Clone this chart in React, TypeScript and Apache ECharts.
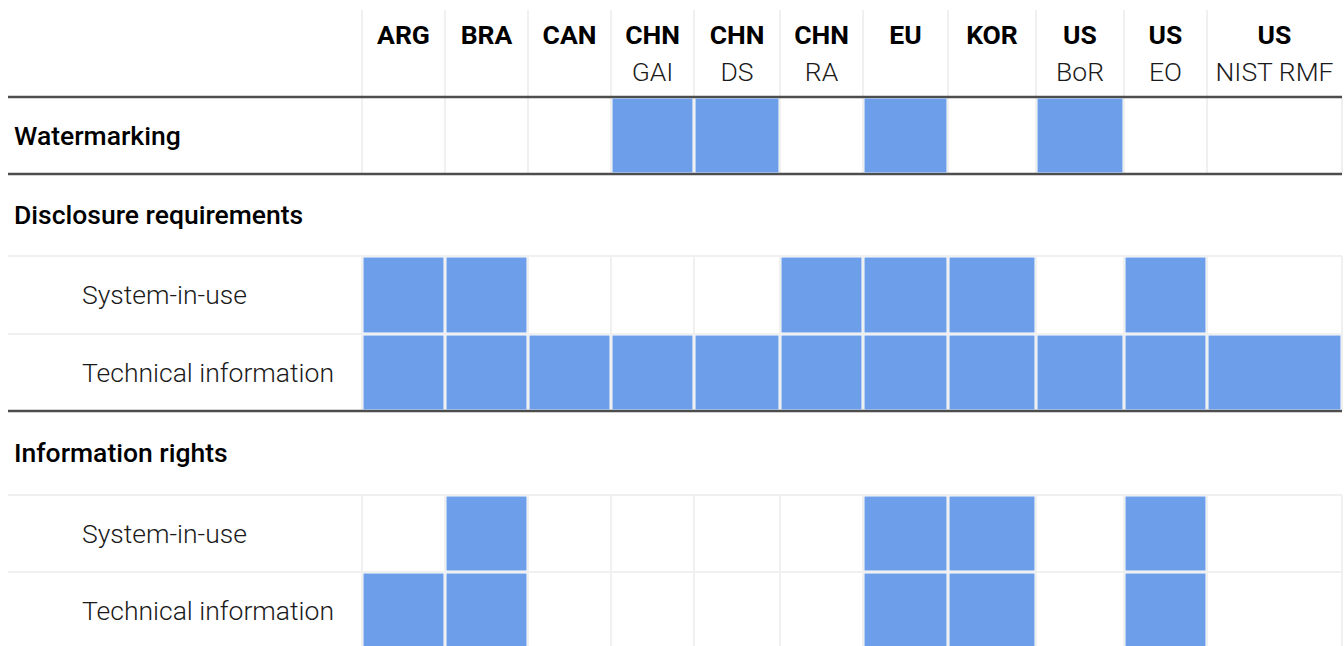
import React, { useEffect, useRef } from "react";
import * as echarts from "echarts";

// ---- data ----
const COLUMN_NAMES = ["ARG", "BRA", "CAN", "CHN", "CHN", "CHN", "EU", "KOR", "US", "US", "US"];
const COLUMN_SUBNAMES = ["", "", "", "GAI", "DS", "RA", "", "", "BoR", "EO", "NIST RMF"];
const ROW_LABELS = [
  "Watermarking",
  "Disclosure requirements",
  "System-in-use",
  "Technical information",
  "Information rights",
  "System-in-use",
  "Technical information",
];
const ROW_KINDS = ["single", "group", "item", "item", "group", "item", "item"];
const watermarking = [0, 0, 0, 1, 1, 0, 1, 0, 1, 0, 0];
const disclosureSystemInUse = [1, 1, 0, 0, 0, 1, 1, 1, 0, 1, 0];
const disclosureTechnicalInfo = [1, 1, 1, 1, 1, 1, 1, 1, 1, 1, 1];
const rightsSystemInUse = [0, 1, 0, 0, 0, 0, 1, 1, 0, 1, 0];
const rightsTechnicalInfo = [1, 1, 0, 0, 0, 0, 1, 1, 0, 1, 0];
const ROW_VALUES: (number[] | null)[] = [
  watermarking,
  null,
  disclosureSystemInUse,
  disclosureTechnicalInfo,
  null,
  rightsSystemInUse,
  rightsTechnicalInfo,
];

// ---- layout ----
const COL_WIDTHS = [83, 83, 83, 83, 86, 83, 85, 88, 88, 83, 135];
const ROW_HEIGHTS = [77, 82, 78, 77, 84, 77, 77];
const BLUE = "#6c9ee9";
const GRID_LINE = "#f0f0f0";
const DARK_LINE = "#4d4d4d";
const FONT = "Roboto";
const FONT_SIZE = 26.5;
const LINE_X1 = 8;
const LINE_X2 = 1342;

const colStarts: number[] = [];
{
  let acc = 0;
  for (const w of COL_WIDTHS) {
    colStarts.push(acc);
    acc += w;
  }
  colStarts.push(acc);
}
const rowStarts: number[] = [];
{
  let acc = 0;
  for (const h of ROW_HEIGHTS) {
    rowStarts.push(acc);
    acc += h;
  }
  rowStarts.push(acc);
}
const TOTAL_W = colStarts[colStarts.length - 1];
const TOTAL_H = rowStarts[rowStarts.length - 1];

export default function App() {
  const ref = useRef<HTMLDivElement>(null);

  useEffect(() => {
    if (!ref.current) return;
    const chart = echarts.init(ref.current, null, { renderer: "svg" });

    const cellData: number[][] = [];
    ROW_VALUES.forEach((vals, r) => {
      if (!vals) return;
      vals.forEach((v, c) => {
        if (v) cellData.push([c, r, v]);
      });
    });

    const rowData = ROW_LABELS.map((_, r) => [0, r]);
    const colData = COLUMN_NAMES.map((_, c) => [c, 0]);

    chart.setOption({
      animation: false,
      backgroundColor: "#ffffff",
      grid: {
        left: 362,
        top: 97,
        width: TOTAL_W,
        height: TOTAL_H,
        outerBoundsMode: "none",
        containLabel: false,
      },
      xAxis: { type: "value", min: 0, max: TOTAL_W, show: false },
      yAxis: { type: "value", min: 0, max: TOTAL_H, inverse: true, show: false },
      series: [
        // rows: labels, separators, vertical grid lines
        {
          type: "custom",
          silent: true,
          clip: false,
          data: rowData,
          renderItem: (params: any, api: any) => {
            const r = api.value(1);
            const kind = ROW_KINDS[r];
            const top = api.coord([0, rowStarts[r]]);
            const bottom = api.coord([TOTAL_W, rowStarts[r + 1]]);
            const children: any[] = [];
            if (kind !== "group") {
              for (let i = 0; i < colStarts.length; i++) {
                const x = api.coord([colStarts[i], 0])[0];
                children.push({
                  type: "line",
                  shape: { x1: x, y1: top[1], x2: x, y2: bottom[1] },
                  style: { stroke: GRID_LINE, lineWidth: 2 },
                });
              }
            }
            if (r === 0) {
              children.push({
                type: "line",
                shape: { x1: LINE_X1, y1: top[1], x2: LINE_X2, y2: top[1] },
                style: { stroke: DARK_LINE, lineWidth: 2.5 },
                z2: 10,
              });
            }
            const isLast = r === ROW_KINDS.length - 1 || ROW_KINDS[r + 1] !== "item";
            const dark = kind === "single" || (kind === "item" && isLast);
            children.push({
              type: "line",
              shape: { x1: LINE_X1, y1: bottom[1], x2: LINE_X2, y2: bottom[1] },
              style: { stroke: dark ? DARK_LINE : GRID_LINE, lineWidth: dark ? 2.5 : 2 },
              z2: dark ? 10 : 1,
            });
            const bold = kind !== "item";
            children.push({
              type: "text",
              x: bold ? 14 : 82,
              y: (top[1] + bottom[1]) / 2 - 0.5,
              style: {
                text: ROW_LABELS[r],
                fontFamily: FONT,
                fontSize: FONT_SIZE,
                fontWeight: bold ? 500 : 300,
                fill: bold ? "#000000" : "#1a1a1a",
                verticalAlign: "middle",
                align: "left",
              },
            });
            return { type: "group", children };
          },
        },
        // header
        {
          type: "custom",
          silent: true,
          clip: false,
          data: colData,
          renderItem: (params: any, api: any) => {
            const c = api.value(0);
            const left = api.coord([colStarts[c], 0]);
            const right = api.coord([colStarts[c + 1], 0]);
            const cx = (left[0] + right[0]) / 2;
            const children: any[] = [
              {
                type: "line",
                shape: { x1: left[0], y1: 10, x2: left[0], y2: left[1] },
                style: { stroke: GRID_LINE, lineWidth: 2 },
              },
              {
                type: "text",
                x: cx,
                y: left[1] - 63,
                style: {
                  text: COLUMN_NAMES[c],
                  fontFamily: FONT,
                  fontSize: FONT_SIZE,
                  fontWeight: 700,
                  fill: "#000000",
                  align: "center",
                  verticalAlign: "middle",
                },
              },
            ];
            if (COLUMN_SUBNAMES[c]) {
              children.push({
                type: "text",
                x: cx,
                y: left[1] - 26,
                style: {
                  text: COLUMN_SUBNAMES[c],
                  fontFamily: FONT,
                  fontSize: FONT_SIZE,
                  fontWeight: 300,
                  fill: "#1a1a1a",
                  align: "center",
                  verticalAlign: "middle",
                },
              });
            }
            return { type: "group", children };
          },
        },
        // cells
        {
          type: "custom",
          silent: true,
          clip: false,
          data: cellData,
          z: 3,
          renderItem: (params: any, api: any) => {
            const c = api.value(0);
            const r = api.value(1);
            const p0 = api.coord([colStarts[c], rowStarts[r]]);
            const p1 = api.coord([colStarts[c + 1], rowStarts[r + 1]]);
            return {
              type: "rect",
              shape: {
                x: p0[0] + 1.5,
                y: p0[1] + 1.5,
                width: p1[0] - p0[0] - 3,
                height: p1[1] - p0[1] - 3,
              },
              style: { fill: BLUE },
            };
          },
        },
      ],
    });

    return () => chart.dispose();
  }, []);

  return (
    <div
      ref={ref}
      style={{ position: "fixed", left: 0, top: 0, width: 1344, height: 646, background: "#fff" }}
    />
  );
}
